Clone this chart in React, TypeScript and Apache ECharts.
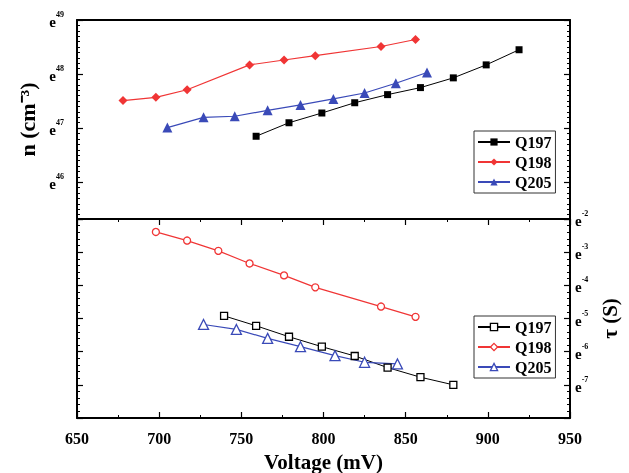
import React, { useEffect, useRef, useState } from "react";
import * as echarts from "echarts";

// Top panel: carrier density n, as natural-log exponent (n = e^value)
const voltQ197 = [759, 779, 799, 819, 839, 859, 879, 899, 919];
const nQ197 = [46.85, 47.1, 47.28, 47.47, 47.62, 47.75, 47.93, 48.17, 48.45];
const voltQ198 = [678, 698, 717, 755, 776, 795, 835, 856];
const nQ198 = [47.51, 47.57, 47.71, 48.17, 48.26, 48.34, 48.51, 48.64];
const voltQ205 = [705, 727, 746, 766, 786, 806, 825, 844, 863];
const nQ205 = [47.01, 47.2, 47.22, 47.33, 47.43, 47.54, 47.65, 47.83, 48.03];

// Bottom panel: lifetime tau, as natural-log exponent (tau = e^value)
const tauVoltQ197 = [739.5, 759, 779, 799, 819, 839, 859, 879];
const tauQ197 = [-4.92, -5.22, -5.55, -5.85, -6.13, -6.48, -6.77, -7.0];
const tauVoltQ198 = [698, 717, 736, 755, 776, 795, 835, 856];
const tauQ198 = [-2.39, -2.65, -2.96, -3.34, -3.7, -4.06, -4.64, -4.95];
const tauVoltQ205 = [727, 747, 766, 786, 807, 825, 845];
const tauQ205 = [-5.18, -5.33, -5.6, -5.85, -6.12, -6.32, -6.37];

const seriesNames = ["Q197", "Q198", "Q205"];
const xTicks = { min: 650, max: 950, interval: 50 };

const FONT = "Liberation Serif";
const RED = "#f03535";
const BLUE = "#3a4ab8";
const BLACK = "#000000";

const zip = (xs: number[], ys: number[]) => xs.map((x, i) => [x, ys[i]]);

const expRich = {
  e: { fontFamily: FONT, fontWeight: "bold", fontSize: 15, color: "#000", verticalAlign: "bottom", padding: [4, 0, 0, 0] },
  s: { fontFamily: FONT, fontWeight: "bold", fontSize: 8, color: "#000", verticalAlign: "top" },
};

export default function App() {
  const ref = useRef<HTMLDivElement>(null);
  const [err, setErr] = useState("");
  useEffect(() => {
    if (!ref.current) return;
    const chart = echarts.init(ref.current, undefined, { renderer: "svg" });
    const line = { show: true, lineStyle: { color: "#000", width: 2 } };
    const tickIn = (len: number) => ({ show: true, inside: true, length: len, lineStyle: { color: "#000", width: 1.2 } });
    const minorIn = (split: number) => ({ show: true, splitNumber: split, length: 3, lineStyle: { color: "#000", width: 1 } });
    const xBase = { type: "value", min: xTicks.min, max: xTicks.max, interval: xTicks.interval, splitLine: { show: false }, axisLine: line };
    const topY = { type: "value", min: 45.32, max: 49, minInterval: 1, maxInterval: 1, splitLine: { show: false }, axisLine: line };
    const botY = { type: "value", min: -8, max: -2, interval: 1, splitLine: { show: false }, axisLine: line };
    const expFmt = (v: number) => (Math.abs(v - Math.round(v)) < 1e-6 ? `{e|e}{s|${Math.round(v)}}` : "");
    const legendText = { color: "#000", fontFamily: FONT, fontWeight: "bold", fontSize: 16 };
    const hollow = [BLACK, RED, BLUE];

    const option: any = {
      animation: false,
      grid: [
        { left: 77, top: 20, width: 493, height: 199 },
        { left: 77, top: 219, width: 493, height: 199 },
      ],
      xAxis: [
        { ...xBase, gridIndex: 0, position: "bottom", axisTick: { show: false }, axisLabel: { show: false } },
        { ...xBase, gridIndex: 0, position: "top", axisTick: { show: false }, axisLabel: { show: false } },
        {
          ...xBase, gridIndex: 1, position: "bottom",
          axisTick: tickIn(6), minorTick: minorIn(2),
          axisLabel: { color: "#000", fontFamily: FONT, fontWeight: "bold", fontSize: 16, margin: 12 },
          name: "Voltage (mV)", nameLocation: "middle", nameGap: 33,
          nameTextStyle: { color: "#000", fontFamily: FONT, fontWeight: "bold", fontSize: 21 },
        },
        { ...xBase, gridIndex: 1, position: "top", axisTick: tickIn(6), minorTick: minorIn(2), axisLabel: { show: false } },
      ],
      yAxis: [
        {
          ...topY, gridIndex: 0, position: "left",
          axisTick: tickIn(6), minorTick: minorIn(10),
          axisLabel: { formatter: expFmt, rich: expRich, margin: 13 },
          name: "n (cm⁻³)", nameLocation: "middle", nameGap: 37, nameRotate: 90,
          nameTextStyle: { color: "#000", fontFamily: FONT, fontWeight: "bold", fontSize: 22 },
        },
        { ...topY, gridIndex: 0, position: "right", axisTick: tickIn(6), minorTick: minorIn(10), axisLabel: { show: false } },
        {
          ...botY, gridIndex: 1, position: "right",
          axisTick: tickIn(6), minorTick: minorIn(5),
          axisLabel: { formatter: (v: number) => (v <= -7.5 ? "" : expFmt(v)), rich: expRich, margin: 5 },
          name: "τ (S)", nameLocation: "middle", nameGap: 27, nameRotate: 90,
          nameTextStyle: { color: "#000", fontFamily: FONT, fontWeight: "bold", fontSize: 21 },
        },
        { ...botY, gridIndex: 1, position: "left", axisTick: tickIn(6), minorTick: minorIn(5), axisLabel: { show: false } },
      ],
      legend: [
        {
          data: seriesNames, left: 474, top: 131, orient: "vertical",
          borderColor: "#333", borderWidth: 1, padding: [3, 4, 3, 3], itemGap: 4, itemWidth: 32, itemHeight: 9,
          textStyle: legendText, selectedMode: false,
        },
        {
          data: seriesNames.map((n, i) => ({
            name: n,
            itemStyle: { color: "#fff", borderColor: hollow[i], borderWidth: 1.3 },
          })),
          left: 474, top: 316, orient: "vertical",
          borderColor: "#333", borderWidth: 1, padding: [3, 4, 3, 3], itemGap: 4, itemWidth: 32, itemHeight: 9,
          textStyle: legendText, selectedMode: false,
        },
      ],
      series: [
        { name: "Q197", type: "line", xAxisIndex: 0, yAxisIndex: 0, data: zip(voltQ197, nQ197), symbol: "rect", symbolSize: 7, lineStyle: { color: BLACK, width: 1 }, itemStyle: { color: BLACK } },
        { name: "Q198", type: "line", xAxisIndex: 0, yAxisIndex: 0, data: zip(voltQ198, nQ198), symbol: "diamond", symbolSize: 9, lineStyle: { color: RED, width: 1.2 }, itemStyle: { color: RED } },
        { name: "Q205", type: "line", xAxisIndex: 0, yAxisIndex: 0, data: zip(voltQ205, nQ205), symbol: "triangle", symbolSize: 10, lineStyle: { color: BLUE, width: 1.2 }, itemStyle: { color: BLUE } },
        { name: "Q197", type: "line", xAxisIndex: 2, yAxisIndex: 2, data: zip(tauVoltQ197, tauQ197), symbol: "rect", symbolSize: 7, lineStyle: { color: BLACK, width: 1 }, itemStyle: { color: "#fff", borderColor: BLACK, borderWidth: 1.3 } },
        { name: "Q198", type: "line", xAxisIndex: 2, yAxisIndex: 2, data: zip(tauVoltQ198, tauQ198), symbol: "circle", symbolSize: 7, lineStyle: { color: RED, width: 1.2 }, itemStyle: { color: "#fff", borderColor: RED, borderWidth: 1.3 } },
        { name: "Q205", type: "line", xAxisIndex: 2, yAxisIndex: 2, data: zip(tauVoltQ205, tauQ205), symbol: "triangle", symbolSize: 10, lineStyle: { color: BLUE, width: 1.2 }, itemStyle: { color: "#fff", borderColor: BLUE, borderWidth: 1.3 } },
      ],
    };
    try {
      chart.setOption(option);
    } catch (e: any) {
      setErr(String(e && e.stack ? e.stack : e).slice(0, 600));
    }
    return () => chart.dispose();
  }, []);
  return (
    <div style={{ position: "fixed", left: 0, top: 0, width: 629, height: 473 }}>
      <div ref={ref} style={{ width: 629, height: 473 }} />
      {err ? (
        <div style={{ position: "absolute", left: 90, top: 30, width: 380, fontSize: 11, fontFamily: "DejaVu Sans", color: "#c00", whiteSpace: "pre-wrap" }}>{err}</div>
      ) : null}
    </div>
  );
}
